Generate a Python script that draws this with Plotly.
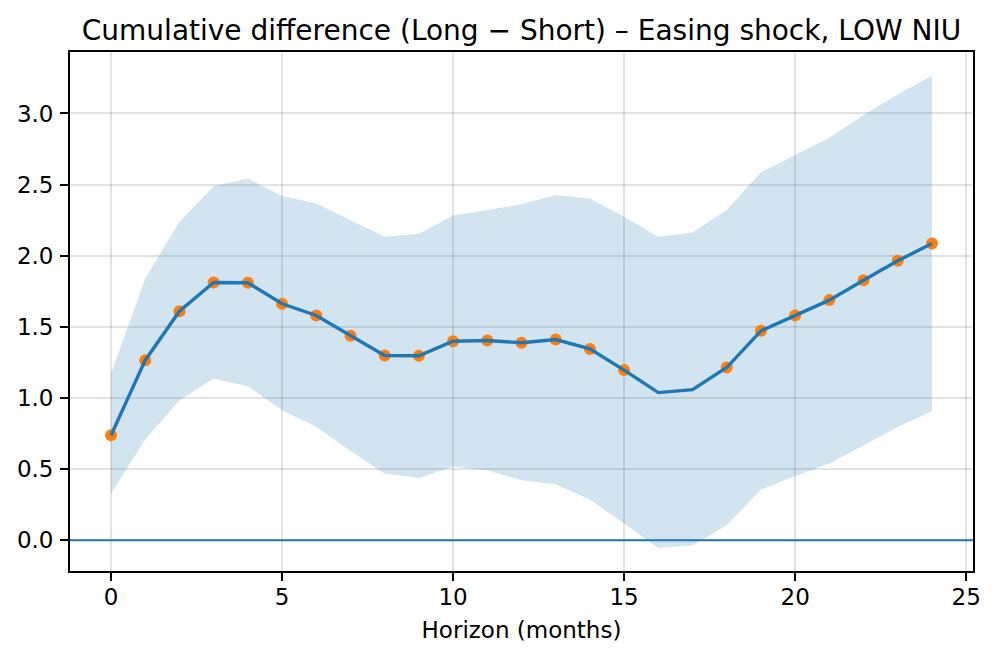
import plotly.graph_objects as go

horizon = list(range(25))
estimate = [0.738, 1.266, 1.610, 1.812, 1.810, 1.662, 1.580, 1.437, 1.299, 1.297,
            1.399, 1.404, 1.388, 1.411, 1.345, 1.196, 1.038, 1.059, 1.214, 1.472,
            1.580, 1.688, 1.828, 1.964, 2.086]
upper = [1.172, 1.840, 2.239, 2.489, 2.543, 2.419, 2.368, 2.250, 2.133, 2.154,
         2.283, 2.321, 2.361, 2.426, 2.403, 2.274, 2.133, 2.164, 2.321, 2.586,
         2.707, 2.829, 2.989, 3.134, 3.265]
lower = [0.328, 0.708, 0.985, 1.137, 1.083, 0.914, 0.797, 0.628, 0.469, 0.438,
         0.516, 0.492, 0.422, 0.394, 0.286, 0.117, -0.054, -0.035, 0.105, 0.356,
         0.452, 0.539, 0.668, 0.797, 0.907]
x_ticks = [0, 5, 10, 15, 20, 25]
y_ticks = [0.0, 0.5, 1.0, 1.5, 2.0, 2.5, 3.0]

sig_x = [h for h, lo in zip(horizon, lower) if lo > 0]
sig_y = [e for e, lo in zip(estimate, lower) if lo > 0]

BLUE = "#1f77b4"
ORANGE = "#ff7f0e"
FONT = "DejaVu Sans"

fig = go.Figure()
fig.add_trace(go.Scatter(x=horizon, y=upper, mode="lines", line=dict(width=0),
                         hoverinfo="skip", showlegend=False))
fig.add_trace(go.Scatter(x=horizon, y=lower, mode="lines", line=dict(width=0),
                         fill="tonexty", fillcolor="rgba(31,119,180,0.2)",
                         hoverinfo="skip", showlegend=False))
fig.add_trace(go.Scatter(x=[-1.2, 25.2], y=[0, 0], mode="lines",
                         line=dict(color=BLUE, width=2.2), showlegend=False))
fig.add_trace(go.Scatter(x=sig_x, y=sig_y, mode="markers",
                         marker=dict(color=ORANGE, size=12, line=dict(width=0)),
                         showlegend=False))
fig.add_trace(go.Scatter(x=horizon, y=estimate, mode="lines",
                         line=dict(color=BLUE, width=3.4), showlegend=False))

axis_common = dict(
    showline=True, linecolor="black", linewidth=1.8, mirror=True,
    ticks="outside", ticklen=8, tickwidth=1.8, tickcolor="black",
    showgrid=True, gridcolor="rgba(0,0,0,0.11)", gridwidth=1.5,
    zeroline=False, automargin=False,
    tickfont=dict(family=FONT, size=23, color="black"),
)

fig.update_layout(
    width=990, height=652,
    margin=dict(l=62, r=25, t=44, b=89),
    paper_bgcolor="white", plot_bgcolor="white",
    font=dict(family=FONT, color="black"),
    title=dict(text="Cumulative difference (Long \u2212 Short) \u2013 Easing shock, LOW NIU",
               x=0.5, xref="paper", xanchor="center",
               y=1, yref="paper", yanchor="bottom", pad=dict(b=12),
               font=dict(family=FONT, size=28, color="black")),
    xaxis=dict(range=[-1.2, 25.2], tickvals=x_ticks,
               ticktext=[str(v) for v in x_ticks],
               ticklabelstandoff=-4,
               title=dict(text="Horizon (months)", standoff=13,
                          font=dict(family=FONT, size=23, color="black")),
               **axis_common),
    yaxis=dict(range=[-0.216, 3.432], tickvals=y_ticks,
               ticktext=[f"{v:.1f}" for v in y_ticks],
               ticklabelstandoff=2,
               **axis_common),
)

fig.write_html("out.html")
